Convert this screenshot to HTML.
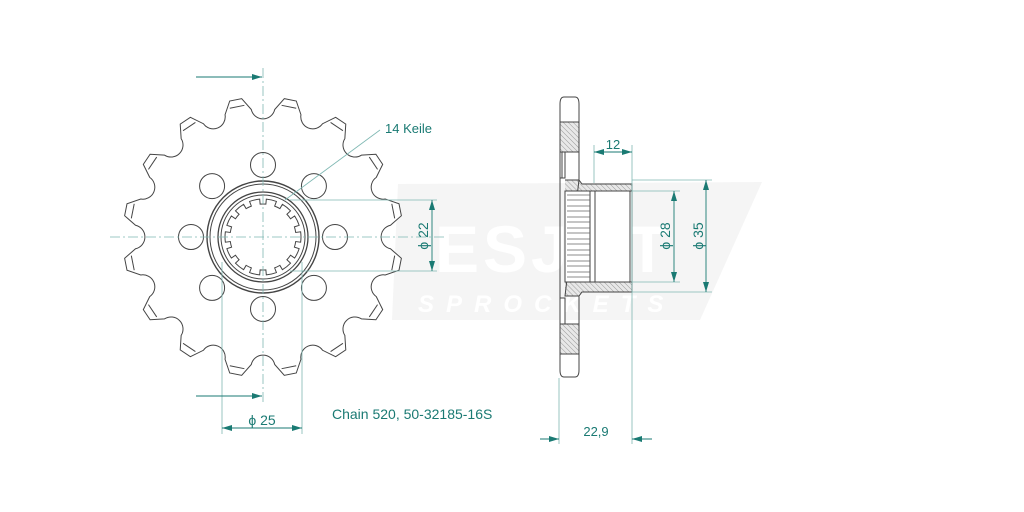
<!DOCTYPE html>
<html><head><meta charset="utf-8"><style>
html,body{margin:0;padding:0;background:#fff;width:1024px;height:512px;overflow:hidden}
svg{display:block}
text{font-family:"Liberation Sans",sans-serif;fill:#1a7a73}
</style></head><body>
<svg id="s" width="1024" height="512" viewBox="0 0 1024 512">
<defs>
<pattern id="h" width="3.5" height="3.5" patternUnits="userSpaceOnUse" patternTransform="rotate(-45)">
<rect width="3.5" height="3.5" fill="#e8e8e8"/><line x1="0" y1="0" x2="0" y2="3.5" stroke="#888" stroke-width="0.8"/></pattern>
<marker id="a" viewBox="0 0 10 6" refX="10" refY="3" markerWidth="10" markerHeight="6" orient="auto-start-reverse" markerUnits="userSpaceOnUse"><path d="M0,0L10,3L0,6z" fill="#1a7a73"/></marker>
</defs>
<!-- watermark -->
<polygon points="398,184 762,182 700,320 392,320" fill="#f5f5f5"/>
<text x="435" y="272" style="font-size:66px;font-weight:bold;fill:#fff;letter-spacing:4px">ESJOT</text>
<text x="418" y="312" style="font-size:24px;font-weight:bold;font-style:italic;fill:#fff;letter-spacing:12px">SPROCKETS</text>
<g id="gear" fill="none" stroke="#444" stroke-width="1"></g>
<!-- centerlines -->
<g stroke="#7fb8b3" stroke-width="0.8" stroke-dasharray="10,3,2,3" fill="none">
<line x1="110" y1="237" x2="445" y2="237"/><line x1="263" y1="68" x2="263" y2="402"/>
</g>
<!-- left dims -->
<g stroke="#7fb8b3" stroke-width="0.8" fill="none">
<line x1="290" y1="200" x2="437" y2="200"/><line x1="290" y1="271" x2="437" y2="271"/>
<line x1="222" y1="262" x2="222" y2="434"/><line x1="302" y1="262" x2="302" y2="434"/>
<line x1="285" y1="200" x2="380" y2="130"/>
</g>
<g stroke="#1a7a73" stroke-width="0.9" fill="none">
<line x1="196" y1="77" x2="262" y2="77" marker-end="url(#a)"/>
<line x1="196" y1="396" x2="262" y2="396" marker-end="url(#a)"/>
<line x1="432" y1="200" x2="432" y2="271" marker-start="url(#a)" marker-end="url(#a)"/>
<line x1="222" y1="428" x2="302" y2="428" marker-start="url(#a)" marker-end="url(#a)"/>
</g>
<text x="385" y="133" style="font-size:13px">14 Keile</text>
<text transform="translate(428,236) rotate(-90)" text-anchor="middle" style="font-size:14px">ϕ 22</text>
<text x="262" y="425" text-anchor="middle" style="font-size:14px">ϕ 25</text>
<text x="332" y="419" style="font-size:14px">Chain 520, 50-32185-16S</text>
<!-- side view -->
<g stroke="#444" stroke-width="1">
<path d="M560,104 Q560,97 564,97 L575,97 Q579,97 579,104 L579,122 L560,122 Z" fill="#fff"/>
<rect x="560" y="122" width="19" height="30" fill="url(#h)"/>
<path d="M560,152 L565,152 L565,178 L560,178Z M562,152 L562,178" fill="#fff"/>
<path d="M565,180 L579,180 L582,184 L632,184 L632,191 L590,191 L590,282 L632,282 L632,292 L582,292 L579,296 L565,296 Z" fill="url(#h)" stroke="none"/>
<path d="M565,180 L579,180 L579,152 M579,180 L582,184 L632,184 L632,292 L582,292 L579,296 L565,296 Z" fill="none"/>
<rect x="565" y="191" width="25" height="91" fill="#fff"/>
<path d="M590,191 L632,191 L632,282 L590,282 Z" fill="#fff"/>
<line x1="595" y1="191" x2="595" y2="282"/><line x1="630" y1="191" x2="630" y2="282"/>
<path d="M560,178 L560,298" fill="none"/>
<path d="M560,298 L565,298 L565,324 L560,324Z" fill="#fff"/>
<rect x="560" y="324" width="19" height="30" fill="url(#h)"/>
<path d="M560,354 L579,354 L579,370 Q579,377 575,377 L564,377 Q560,377 560,370Z" fill="#fff"/>
<line x1="579" y1="296" x2="579" y2="324"/>
</g>
<g id="spl" stroke="#666" stroke-width="0.8" fill="none"></g>
<g stroke="#7fb8b3" stroke-width="0.8" fill="none">
<line x1="594" y1="145" x2="594" y2="183"/><line x1="632" y1="145" x2="632" y2="444"/>
<line x1="559" y1="378" x2="559" y2="444"/>
<line x1="632" y1="180" x2="712" y2="180"/><line x1="632" y1="292" x2="712" y2="292"/>
<line x1="632" y1="191" x2="680" y2="191"/><line x1="632" y1="282" x2="680" y2="282"/>
</g>
<g stroke="#1a7a73" stroke-width="0.9" fill="none">
<line x1="594" y1="152" x2="632" y2="152" marker-start="url(#a)" marker-end="url(#a)"/>
<line x1="674" y1="191" x2="674" y2="282" marker-start="url(#a)" marker-end="url(#a)"/>
<line x1="706" y1="180" x2="706" y2="292" marker-start="url(#a)" marker-end="url(#a)"/>
<line x1="540" y1="439" x2="559" y2="439" marker-end="url(#a)"/>
<line x1="652" y1="439" x2="632" y2="439" marker-end="url(#a)"/>
</g>
<text x="613" y="149" text-anchor="middle" style="font-size:13px">12</text>
<text transform="translate(670,236) rotate(-90)" text-anchor="middle" style="font-size:14px">ϕ 28</text>
<text transform="translate(703,236) rotate(-90)" text-anchor="middle" style="font-size:14px">ϕ 35</text>
<text x="596" y="436" text-anchor="middle" style="font-size:13px">22,9</text>
</svg>
<script>
(function(){
var cx=263,cy=237,g=document.getElementById('gear'),NS='http://www.w3.org/2000/svg';
function P(r,deg){var a=deg*Math.PI/180;return [(cx+r*Math.sin(a)).toFixed(2),(cy-r*Math.cos(a)).toFixed(2)];}
var d='';
for(var k=0;k<16;k++){
 var t=11.25+22.5*k;
 var p1=P(140,t-2.5),p2=P(140,t+2.5),p3=P(128,t+6),p4=P(128,t+16.5);
 d+=(k==0?'M':'L')+p1+' L'+p2+' L'+p3+' A12,12 0 0 0 '+p4+' ';
}
d+='Z';
function add(tag,at){var e=document.createElementNS(NS,tag);for(var i in at)e.setAttribute(i,at[i]);g.appendChild(e);return e;}
add('path',{d:d,fill:'#fff'});
for(var k=0;k<16;k++){var t=11.25+22.5*k;var a=P(133,t-3.2),b=P(133,t+3.2);add('line',{x1:a[0],y1:a[1],x2:b[0],y2:b[1]});}
for(var k=0;k<8;k++){var c=P(72,45*k);add('circle',{cx:c[0],cy:c[1],r:12.5});}
add('circle',{cx:cx,cy:cy,r:56,'stroke-width':1.4});
add('circle',{cx:cx,cy:cy,r:53});
add('circle',{cx:cx,cy:cy,r:45,'stroke-width':1.3});
add('circle',{cx:cx,cy:cy,r:42});
var s='';
for(var k=0;k<14;k++){var t=360/14*k;var q=[P(38,t-5),P(33,t-5),P(33,t+5),P(38,t+5),P(38,t+360/14-5)];
 s+=(k==0?'M':'L')+q[0]+' L'+q[1]+' A33,33 0 0 1 '+q[2]+' L'+q[3]+' A38,38 0 0 1 '+q[4]+' ';}
add('path',{d:s+'Z',fill:'none'});
var sp=document.getElementById('spl'),h='';
for(var i=0;i<8;i++){var y=195+i*11;h+='M567,'+y+' L590,'+y+' M567,'+(y+5)+' L590,'+(y+5)+' ';}
var e=document.createElementNS(NS,'path');e.setAttribute('d',h);sp.appendChild(e);
})();
</script>
</body></html>
